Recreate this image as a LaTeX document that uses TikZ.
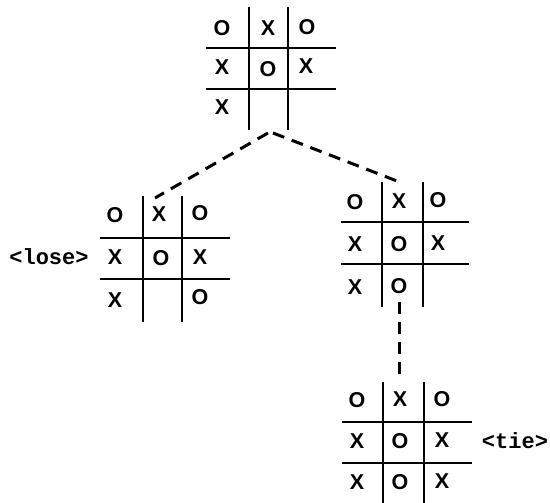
\documentclass[tikz,border=0pt]{standalone}
\usepackage{fontspec}
\setmainfont{Liberation Sans}
\setmonofont{Liberation Mono}
\begin{document}
\begin{tikzpicture}[x=1pt,y=-1pt,
  cellx/.style={font=\fontsize{21.5}{22}\selectfont\bfseries, inner sep=0pt},
  tagx/.style={font=\fontsize{22}{23}\selectfont\ttfamily\bfseries, inner sep=0pt},
  vl/.style={line width=2pt},
  hl/.style={line width=1.3pt},
  conn/.style={line width=3pt, dash pattern=on 12pt off 8pt}]
\useasboundingbox (0,0) rectangle (550,503);
% ---- top board
\draw[vl] (249,7) -- (249,130);
\draw[vl] (288,7) -- (288,130);
\draw[hl] (206,48) -- (336,48);
\draw[hl] (206,89) -- (336,89);
\node[cellx] (t11) at (222,28) {O};
\node[cellx] (t12) at (268,28) {X};
\node[cellx] (t13) at (307,27) {O};
\node[cellx] (t21) at (222,67) {X};
\node[cellx] (t22) at (268,69) {O};
\node[cellx] (t23) at (306,66) {X};
\node[cellx] (t31) at (222,107) {X};
% ---- left board
\draw[vl] (143,196) -- (143,322);
\draw[vl] (182,196) -- (182,322);
\draw[hl] (100,238) -- (230,238);
\draw[hl] (100,279) -- (230,279);
\node[cellx] (l11) at (115,215) {O};
\node[cellx] (l12) at (159,214) {X};
\node[cellx] (l13) at (200,213) {O};
\node[cellx] (l21) at (115,257) {X};
\node[cellx] (l22) at (161,258) {O};
\node[cellx] (l23) at (200,257) {X};
\node[cellx] (l31) at (115,300) {X};
\node[cellx] (l33) at (200,297) {O};
\node[tagx] (lose) at (49,257) {<lose>};
% ---- right board
\draw[vl] (382,182) -- (382,307);
\draw[vl] (423,182) -- (423,307);
\draw[hl] (341,222) -- (469,222);
\draw[hl] (341,264) -- (469,264);
\node[cellx] (r11) at (355,202) {O};
\node[cellx] (r12) at (399,201) {X};
\node[cellx] (r13) at (438,200) {O};
\node[cellx] (r21) at (355,244) {X};
\node[cellx] (r22) at (399,244) {O};
\node[cellx] (r23) at (438,243) {X};
\node[cellx] (r31) at (355,287) {X};
\node[cellx] (r32) at (399,286) {O};
% ---- bottom board
\draw[vl] (383,382) -- (383,503);
\draw[vl] (424,382) -- (424,503);
\draw[hl] (342,422) -- (472,422);
\draw[hl] (342,463) -- (472,463);
\node[cellx] (b11) at (357,400) {O};
\node[cellx] (b12) at (400,399) {X};
\node[cellx] (b13) at (442,399) {O};
\node[cellx] (b21) at (357,441) {X};
\node[cellx] (b22) at (400,441) {O};
\node[cellx] (b23) at (442,440) {X};
\node[cellx] (b31) at (357,482) {X};
\node[cellx] (b32) at (400,482) {O};
\node[cellx] (b33) at (442,481) {X};
\node[tagx] (tie) at (515,441) {<tie>};
% ---- connectors
\coordinate (topL) at (268,133);
\coordinate (topR) at (273,133);
\coordinate (leftIn) at (155,198);
\coordinate (rightIn) at (397,181);
\coordinate (rightOut) at (399,302);
\coordinate (bottomIn) at (399,380);
\draw[conn] (topL) -- (leftIn);
\draw[conn] (topR) -- (rightIn);
\draw[conn] (rightOut) -- (bottomIn);
\end{tikzpicture}
\end{document}
